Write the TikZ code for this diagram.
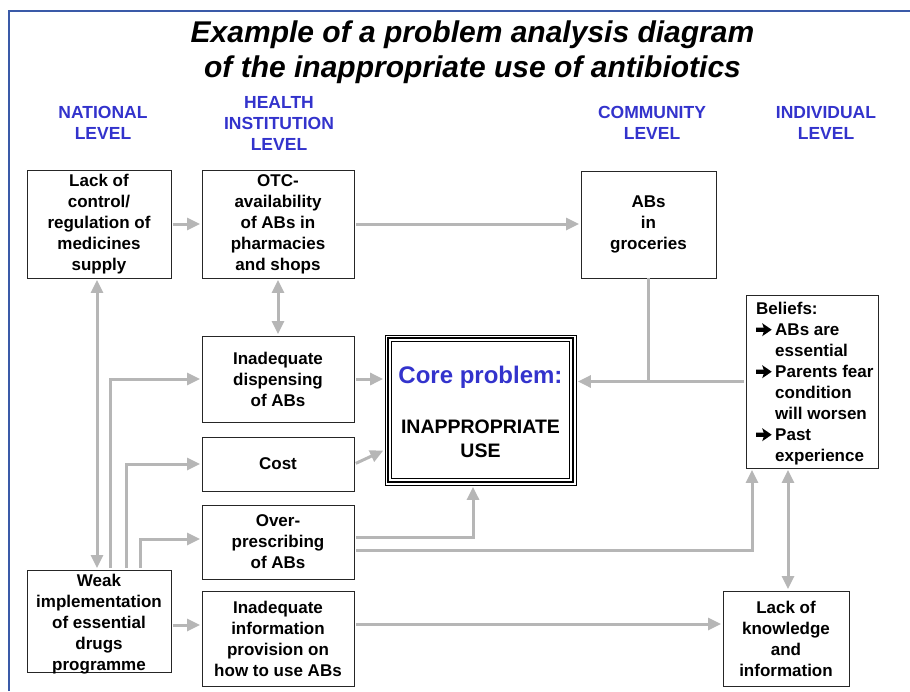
\documentclass[tikz,border=0pt]{standalone}
\usepackage{fontspec}
\setmainfont{Liberation Sans}
\usetikzlibrary{arrows.meta}

\definecolor{framecol}{RGB}{58,90,168}
\definecolor{levelcol}{RGB}{51,51,204}
\definecolor{linkcol}{RGB}{182,182,182}

% heavy bullet arrow with hanging indent for the beliefs list
\newcommand\beliefarrow{\makebox[19pt][l]{\tikz[x=1pt,y=1pt,baseline=0pt]
  \fill[black] (0,3.4) -- (7.5,3.4) -- (6,-1) -- (15.5,5.5) -- (6,12) -- (7.5,7.6) -- (0,7.6) -- cycle;}}

\tikzset{
  box/.style={draw=black!85, line width=0.9pt, inner sep=0pt, align=center,
    font=\bfseries\fontsize{17}{21}\selectfont},
  boxtext/.style={inner sep=0pt, align=center, font=\bfseries\fontsize{17}{21}\selectfont},
  tip/.tip={Triangle[length=13pt,width=12pt]},
  link/.style={draw=linkcol, line width=3pt, -tip, shorten >=1.5pt, shorten <=1.5pt},
  biarrow/.style={draw=linkcol, line width=3pt, tip-tip, shorten >=1.5pt, shorten <=1.5pt},
  plain/.style={draw=linkcol, line width=3pt},
  level/.style={text=levelcol, align=center, inner sep=0pt,
    font=\bfseries\fontsize{17.5}{21}\selectfont},
  title/.style={inner sep=0pt, font=\bfseries\itshape\fontsize{30}{35}\selectfont},
}

\begin{document}
\begin{tikzpicture}[x=1pt,y=-1pt]
\useasboundingbox (0,0) rectangle (910,691);

% page frame
\draw[framecol, line width=1.3pt] (9,691) -- (9,11) -- (910,11);

% title
\node[title, anchor=base] (t1) at (472.5,42) {Example of a problem analysis diagram};
\node[title, anchor=base] (t2) at (472.5,77) {of the inappropriate use of antibiotics};

% level headings
\node[level] (lvnat) at (103,123) {NATIONAL\\LEVEL};
\node[level] (lvhealth) at (279,123.3) {HEALTH\\INSTITUTION\\LEVEL};
\node[level] (lvcomm) at (652,123) {COMMUNITY\\LEVEL};
\node[level] (lvind) at (826,123) {INDIVIDUAL\\LEVEL};

% cause boxes
\node[box, minimum width=144, minimum height=108] (lack) at (99,224)
  {Lack of\\control/\\regulation of\\medicines\\supply};
\node[box, minimum width=152, minimum height=108] (otc) at (278,224)
  {OTC-\\availability\\of ABs in\\pharmacies\\and shops};
\node[box, minimum width=135, minimum height=107] (groc) at (648.5,224.5)
  {ABs\\in\\groceries};
\node[box, minimum width=152, minimum height=86] (disp) at (278,379)
  {Inadequate\\dispensing\\of ABs};
\node[box, minimum width=152, minimum height=54] (cost) at (278,464) {Cost};
\node[box, minimum width=152, minimum height=74] (over) at (278,542)
  {Over-\\prescribing\\of ABs};
\node[box, minimum width=152, minimum height=95] (info) at (278,638.5)
  {Inadequate\\information\\provision on\\how to use ABs};
\node[box, minimum width=144, minimum height=102] (weak) at (99,621) {};
\node[boxtext] (weaktext) at (99,624)
  {Weak\\implementation\\of essential\\drugs\\programme};
\node[box, minimum width=132, minimum height=173] (beliefs) at (812,381.5) {};
\node[boxtext, anchor=north west, align=left] (belieftext) at (756,299.3)
  {\begin{tabular}{@{}l@{}l@{}}
    \multicolumn{2}{@{}l@{}}{Beliefs:}\\
    \beliefarrow & ABs are\\
                 & essential\\
    \beliefarrow & Parents fear\\
                 & condition\\
                 & will worsen\\
    \beliefarrow & Past\\
                 & experience
   \end{tabular}};
\node[box, minimum width=126, minimum height=95] (know) at (786,638.5)
  {Lack of\\knowledge\\and\\information};

% core problem with triple border
\node[draw=black, line width=0.8pt, minimum width=191, minimum height=150, inner sep=0pt]
  (core) at (480.5,410) {};
\draw[line width=2.4pt] ([xshift=3.6pt,yshift=-3.6pt]core.north west)
  rectangle ([xshift=-3.6pt,yshift=3.6pt]core.south east);
\draw[line width=0.8pt] ([xshift=6.6pt,yshift=-6.6pt]core.north west)
  rectangle ([xshift=-6.6pt,yshift=6.6pt]core.south east);
\node[anchor=base, inner sep=0pt, text=levelcol, font=\bfseries\fontsize{24}{28}\selectfont]
  (corehead) at (480.5,383) {Core problem:};
\node[anchor=base, inner sep=0pt, font=\bfseries\fontsize{19.5}{24}\selectfont]
  (coreuse1) at (480.5,433) {INAPPROPRIATE};
\node[anchor=base, inner sep=0pt, font=\bfseries\fontsize{19.5}{24}\selectfont]
  (coreuse2) at (480.5,457) {USE};

% connectors
\draw[link] (lack) -- (otc);
\draw[link] (otc.east) -- (otc.east -| groc.west);
\draw[biarrow] (otc) -- (disp);
\draw[biarrow] ([xshift=-2pt]lack.south) -- ([xshift=-2pt]weak.north);
\draw[link] ([xshift=11pt]weak.north) |- (disp.west);
\draw[link] ([xshift=27pt]weak.north) |- (cost.west);
\draw[link] ([xshift=41pt]weak.north) |- ([yshift=3pt]over.west);
\draw[link] ([yshift=-4pt]weak.east) -- ([yshift=-4pt]weak.east -| info.west);
\draw[link] (disp.east) -- (disp.east -| core.west);
\draw[link] (cost.east) -- ([yshift=-40pt]core.west);
\draw[link] ([yshift=5pt]over.east) -| ([xshift=-7.5pt]core.south);
\draw[link] ([yshift=-8pt]over.east) -| ([xshift=-60pt]beliefs.south);
\draw[biarrow] ([xshift=2pt]know.north) -- ([xshift=2pt]know.north |- beliefs.south);
\draw[link] ([yshift=14.5pt]info.east) -- ([yshift=14.5pt]info.east -| know.west);
\draw[link] (beliefs.west) -- (beliefs.west -| core.east);
\draw[plain] (groc.south) -- (groc.south |- beliefs.west);
\end{tikzpicture}
\end{document}
